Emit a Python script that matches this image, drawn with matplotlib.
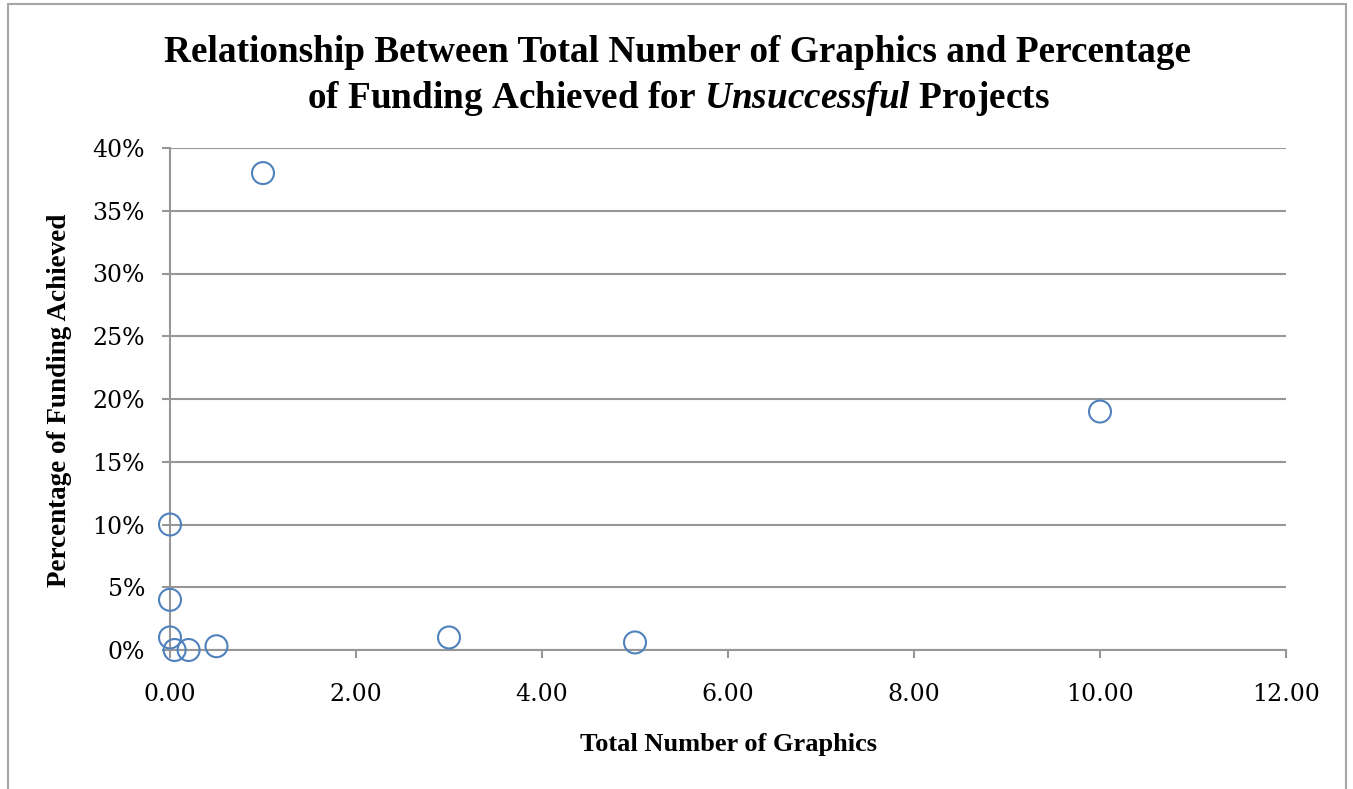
import matplotlib
matplotlib.use("Agg")
import matplotlib.pyplot as plt
from matplotlib.ticker import FuncFormatter, MultipleLocator
from matplotlib.patches import Rectangle

# Total number of graphics vs. share of the funding goal reached (unsuccessful projects)
graphics = [1.0, 10.0, 0.0, 0.0, 0.0, 0.05, 0.2, 0.5, 3.0, 5.0]
funding_pct = [38.0, 19.0, 10.0, 4.0, 1.0, 0.0, 0.0, 0.3, 1.0, 0.6]

title_line1 = "Relationship Between Total Number of Graphics and Percentage"
title_line2 = r"of Funding Achieved for $\mathit{Unsuccessful}$ Projects"
x_label = "Total Number of Graphics"
y_label = "Percentage of Funding Achieved"

plt.rcParams["mathtext.fontset"] = "custom"
plt.rcParams["mathtext.rm"] = "Liberation Serif:bold"
plt.rcParams["mathtext.it"] = "Liberation Serif:italic:bold"
plt.rcParams["mathtext.bf"] = "Liberation Serif:bold"

W, H = 1353, 789
fig = plt.figure(figsize=(W / 100, H / 100), dpi=100)

# outer chart frame
fig.patches.append(Rectangle((8 / W, -0.05), (1346 - 8) / W, 1.05 - 4 / H,
                             transform=fig.transFigure, fill=False,
                             edgecolor="#a6a6a6", linewidth=1.5))

ax = fig.add_axes([170 / W, (H - 650) / H, (1286 - 170) / W, (650 - 148) / H])

grid_c = "#979797"
ax.scatter(graphics, funding_pct, s=250, facecolors="none",
           edgecolors="#4f81bd", linewidths=1.5, zorder=3, clip_on=False)

ax.set_xlim(0, 12)
ax.set_ylim(0, 40)
ax.xaxis.set_major_locator(MultipleLocator(2))
ax.yaxis.set_major_locator(MultipleLocator(5))
ax.xaxis.set_major_formatter(FuncFormatter(lambda v, p: f"{v:.2f}"))
ax.yaxis.set_major_formatter(FuncFormatter(lambda v, p: f"{v:.0f}%"))

ax.grid(axis="y", color=grid_c, linewidth=1.5, zorder=0)
ax.set_axisbelow(True)
for side in ("top", "right"):
    ax.spines[side].set_visible(False)
for side in ("left", "bottom"):
    ax.spines[side].set_color(grid_c)
    ax.spines[side].set_linewidth(1.5)

ax.tick_params(axis="both", colors=grid_c, length=6, width=1.5, direction="out")
ax.tick_params(axis="x", pad=18, labelcolor="black")
ax.tick_params(axis="y", pad=12, labelcolor="black")
for lbl in ax.get_xticklabels() + ax.get_yticklabels():
    lbl.set_fontfamily("DejaVu Serif")
    lbl.set_fontsize(17)

fig.text(678 / W, (H - 53) / H, title_line1,
         ha="center", va="center", fontsize=26.8, fontweight="bold",
         family="Liberation Serif")
fig.text(678 / W, (H - 98) / H, title_line2,
         ha="center", va="center", fontsize=26.8, fontweight="bold",
         family="Liberation Serif")

fig.text(729 / W, (H - 745) / H, x_label, ha="center", va="center",
         fontsize=19, fontweight="bold", family="Liberation Serif")
fig.text(60 / W, (H - 400) / H, y_label, ha="center", va="center",
         rotation=90, fontsize=19.5, fontweight="bold", family="Liberation Serif")

fig.savefig("out.png", dpi=100)
